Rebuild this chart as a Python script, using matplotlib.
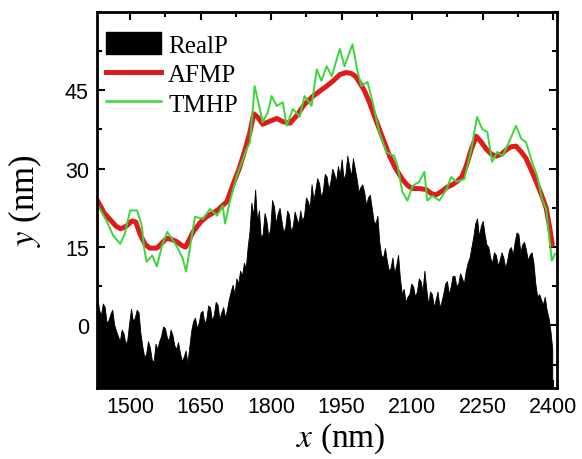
import numpy as np
import matplotlib.pyplot as plt
from matplotlib.patches import Patch
from matplotlib.lines import Line2D
from matplotlib.ticker import MultipleLocator

# RealP profile, sampled every 4 nm starting at 1430 nm
real_x0 = 1430
real_dx = 4
real_y = [5.5, 3.0, 2.0, 4.2, 3.5, 0.5, 1.0, 2.2, 3.0, 0.2,
          -1.0, -2.0, -3.0, -0.8, -1.5, -3.5, -2.8, 0.5, 3.2, 0.8,
          1.5, 3.0, 2.5, -1.5, -4.0, -6.0, -5.5, -3.0, -4.2, -6.5,
          -7.0, -3.5, -4.5, -3.0, -2.0, -0.2, -0.5, -2.2, -3.0, -0.8,
          -1.8, -3.8, -4.5, -3.2, -5.2, -6.8, -6.0, -4.8, -7.2, -4.0,
          -1.0, 0.8, 1.5, -0.5, 0.5, 2.5, 2.8, 0.4, 1.2, 3.8,
          3.5, 1.0, 2.0, 4.5, 4.0, 1.2, 2.5, 3.5, 1.5, 3.0,
          5.0, 6.5, 7.8, 6.0, 9.0, 8.0, 10.5, 9.5, 12.0, 11.0,
          15.0, 18.0, 23.5, 21.0, 26.0, 20.0, 22.0, 16.8, 17.5, 21.5,
          20.0, 17.0, 18.5, 24.0, 22.8, 19.5, 21.5, 22.5, 20.0, 17.8,
          18.8, 22.0, 21.2, 18.0, 19.0, 21.8, 20.5, 19.5, 22.0, 20.0,
          21.0, 24.5, 23.8, 22.5, 27.0, 24.0, 26.0, 28.2, 27.2, 24.5,
          25.8, 29.0, 28.5, 26.0, 27.5, 30.0, 29.0, 27.5, 30.5, 28.8,
          31.8, 28.0, 29.0, 32.5, 30.5, 28.5, 32.0, 30.0, 28.0, 25.5,
          26.5, 27.0, 25.5, 23.0, 24.5, 25.0, 22.5, 20.0, 19.5, 21.0,
          16.0, 13.5, 13.0, 14.8, 12.5, 10.5, 11.0, 13.0, 10.0, 11.5,
          13.5, 9.0, 6.0, 7.0, 4.5, 5.5, 6.0, 8.0, 7.5, 5.5,
          6.5, 9.0, 8.5, 6.5, 10.5, 7.0, 4.0, 6.5, 6.0, 3.5,
          5.0, 6.5, 3.5, 4.5, 6.0, 8.0, 8.5, 6.0, 7.5, 9.5,
          9.5, 7.5, 8.0, 10.0, 9.0, 8.0, 10.5, 12.0, 13.0, 15.0,
          17.0, 19.5, 20.5, 17.0, 19.0, 20.0, 17.5, 15.5, 15.0, 13.0,
          12.0, 14.0, 13.5, 11.5, 12.5, 14.0, 13.0, 11.0, 12.5, 14.5,
          15.0, 13.5, 16.0, 17.8, 17.5, 14.0, 15.5, 16.0, 14.5, 12.5,
          13.5, 14.0, 12.0, 8.0, 5.5, 6.0, 5.0, 4.0, 5.5, 3.0,
          1.5, -1.0, -4.5]

afmp_x = [1430, 1445, 1458, 1470, 1480, 1492, 1504, 1512, 1521, 1532,
          1542, 1557, 1568, 1578, 1590, 1600, 1610, 1618, 1634, 1650,
          1663, 1685, 1706, 1719, 1732, 1744, 1755, 1763, 1772, 1782,
          1795, 1812, 1825, 1840, 1855, 1870, 1888, 1903, 1918, 1932,
          1946, 1960, 1971, 1980, 1988, 1998, 2009, 2020, 2030, 2041,
          2052, 2065, 2079, 2090, 2100, 2115, 2130, 2141, 2151, 2165,
          2175, 2185, 2196, 2206, 2215, 2225, 2236, 2246, 2257, 2268,
          2279, 2290, 2300, 2311, 2321, 2332, 2342, 2353, 2364, 2375,
          2385, 2392, 2398]
afmp_y = [24.0, 21.5, 20.2, 19.0, 18.5, 19.0, 20.0, 19.8, 17.5, 15.5,
          14.8, 14.8, 15.8, 16.7, 16.4, 16.0, 15.3, 15.0, 17.9, 19.8,
          20.8, 22.0, 23.7, 27.0, 30.0, 33.5, 37.0, 40.5, 39.8, 38.5,
          39.0, 39.6, 39.0, 38.7, 40.2, 42.2, 43.8, 44.8, 45.8, 46.8,
          48.0, 48.4, 48.2, 47.6, 46.5, 45.0, 42.7, 40.0, 37.6, 35.0,
          32.4, 30.0, 28.0, 26.8, 26.2, 26.2, 26.0, 25.2, 25.0, 25.8,
          26.5, 26.9, 27.6, 28.5, 30.5, 33.5, 36.2, 35.2, 33.8, 32.8,
          32.4, 32.8, 33.6, 34.2, 34.3, 33.2, 32.0, 29.8, 27.5, 25.0,
          22.5, 19.0, 15.5]

tmhp_x = [1432, 1451, 1464, 1479, 1489, 1500, 1515, 1525, 1530, 1535,
          1547, 1557, 1568, 1579, 1589, 1602, 1612, 1619, 1627, 1638,
          1655, 1670, 1685, 1697, 1702, 1712, 1727, 1748, 1755, 1765,
          1776, 1782, 1793, 1801, 1812, 1825, 1833, 1846, 1861, 1871,
          1886, 1897, 1907, 1918, 1929, 1946, 1956, 1973, 1984, 1992,
          2005, 2016, 2030, 2045, 2062, 2069, 2079, 2090, 2101, 2115,
          2126, 2132, 2143, 2158, 2173, 2183, 2194, 2211, 2226, 2238,
          2249, 2260, 2270, 2281, 2292, 2306, 2321, 2332, 2342, 2355,
          2366, 2376, 2385, 2397, 2404]
tmhp_y = [22.9, 19.8, 17.2, 15.6, 17.6, 22.0, 22.0, 19.0, 14.7, 12.2,
          13.4, 11.3, 15.3, 17.9, 16.6, 14.7, 12.8, 10.3, 14.7, 20.8,
          20.4, 22.3, 21.0, 22.9, 19.5, 23.7, 28.6, 33.8, 35.0, 45.8,
          41.4, 38.9, 40.8, 43.9, 42.0, 42.7, 38.2, 41.4, 40.0, 43.9,
          42.0, 49.0, 46.8, 49.6, 47.7, 52.9, 49.6, 53.8, 48.5, 45.8,
          46.6, 42.7, 37.0, 33.2, 32.4, 30.5, 25.6, 23.9, 26.7, 27.5,
          29.4, 23.9, 24.8, 23.9, 26.1, 28.4, 27.5, 28.0, 33.8, 39.9,
          37.6, 37.0, 31.3, 33.2, 32.4, 35.1, 38.2, 35.7, 35.1, 31.3,
          28.6, 24.2, 22.3, 12.4, 13.7]

x_ticks = [1500, 1650, 1800, 1950, 2100, 2250, 2400]
y_ticks = [0, 15, 30, 45]


def main():
    plt.rcParams['mathtext.fontset'] = 'stix'
    serif = ['Liberation Serif', 'DejaVu Serif']
    sans = ['Liberation Sans', 'DejaVu Sans']

    fig = plt.figure(figsize=(5.82, 4.60), dpi=100)
    ax = fig.add_axes([0.167, 0.154, 0.790, 0.818])

    ymin, ymax = -12, 60
    real_x = real_x0 + real_dx * np.arange(len(real_y))
    ax.fill_between(real_x, ymin, real_y, color='black', linewidth=0.6, edgecolor='black')
    ax.plot(afmp_x, afmp_y, color='#e01b1b', linewidth=3.6, solid_capstyle='round')
    ax.plot(tmhp_x, tmhp_y, color='#3ad63a', linewidth=1.4)

    ax.set_xlim(1430, 2408)
    ax.set_ylim(ymin, ymax)
    ax.set_xticks(x_ticks)
    ax.set_yticks(y_ticks)
    ax.xaxis.set_minor_locator(MultipleLocator(75))
    ax.yaxis.set_minor_locator(MultipleLocator(7.5))
    ax.tick_params(which='both', direction='in', top=True, right=True, width=1.5)
    ax.tick_params(which='major', length=6, pad=6)
    ax.tick_params(which='minor', length=3.5)
    for lab in ax.get_xticklabels() + ax.get_yticklabels():
        lab.set_family(sans)
        lab.set_fontsize(15.5)
    for sp in ax.spines.values():
        sp.set_linewidth(2)

    ax.set_xlabel('$\\mathit{x}$ (nm)', family=serif, fontsize=24)
    ax.set_ylabel('$\\mathit{y}$ (nm)', family=serif, fontsize=25)
    ax.xaxis.set_label_coords(0.53, -0.085)
    ax.yaxis.set_label_coords(-0.115, 0.5)

    handles = [Patch(facecolor='black', edgecolor='black'),
               Line2D([], [], color='#e01b1b', linewidth=3.6),
               Line2D([], [], color='#3ad63a', linewidth=1.8)]
    ax.legend(handles, ['RealP', 'AFMP', 'TMHP'], loc='upper left',
              bbox_to_anchor=(-0.025, 1.0), frameon=False,
              prop={'family': serif, 'size': 18}, handlelength=2.2,
              handleheight=1.0, handletextpad=0.3, labelspacing=0.2,
              borderaxespad=0.2, borderpad=0.6)

    fig.savefig('out.png', dpi=100)


if __name__ == '__main__':
    main()
